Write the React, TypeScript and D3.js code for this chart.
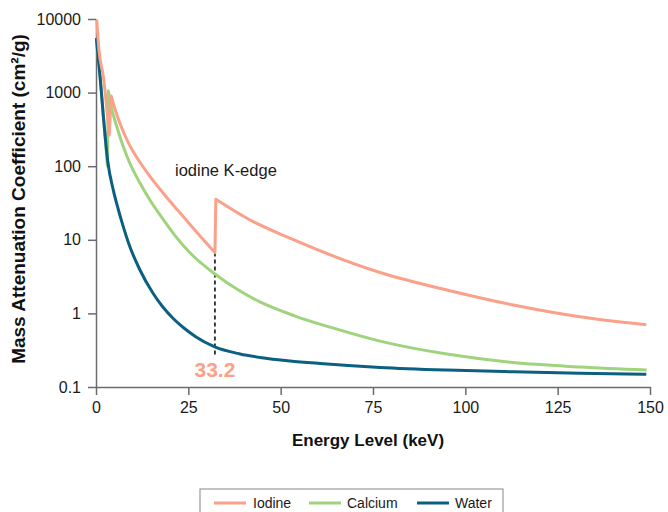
import React, { useEffect, useRef } from "react";
import * as d3 from "d3";

// Energy (keV) as plotted, mass attenuation coefficient (cm²/g)
const iodineEnergy = [0.2, 0.8, 2.0, 3.6, 4.1, 5.14, 6.5, 8.94, 11.9, 14.6, 18.1, 22.7, 27.1, 32.2, 32.45, 41.7, 52.5, 76.9, 95, 113, 131, 149];
const iodineValue = [9700, 3800, 1630, 265, 900, 599, 380, 199, 113, 72.7, 43.6, 23.4, 13.0, 6.7, 35.5, 18.6, 10.5, 3.6, 2.08, 1.3, 0.9, 0.7];

const calciumEnergy = [0.1, 1.1, 2.0, 3.1, 3.33, 4.33, 5.42, 7.04, 9.02, 11.9, 14.6, 18.1, 21.4, 25.5, 32.2, 39.0, 44.4, 53.9, 63.4, 76.9, 95, 112.9, 131.1, 149.1];
const calciumValue = [5200, 1700, 480, 100, 1051, 580, 374, 207, 114, 59, 34.7, 19.2, 11.4, 6.6, 3.43, 2.01, 1.43, 0.92, 0.65, 0.42, 0.28, 0.215, 0.187, 0.17];

const waterEnergy = [0.1, 1.1, 2.0, 3.2, 4.7, 6.0, 7.0, 9.0, 11.9, 15.4, 18.1, 20.9, 23.8, 27.1, 32.0, 39.0, 44.4, 52.5, 60.7, 76.9, 95, 113, 131, 149];
const waterValue = [5500, 1640, 471, 115, 47, 26.2, 17.5, 8.5, 3.89, 1.89, 1.22, 0.853, 0.633, 0.478, 0.353, 0.281, 0.252, 0.2256, 0.2086, 0.1846, 0.17, 0.161, 0.154, 0.149];

const seriesNames = ["Iodine", "Calcium", "Water"];
const seriesColors = ["#FBA089", "#9FD37C", "#0B5F80"];

const xTicks = [0, 25, 50, 75, 100, 125, 150];
const yTicks = [0.1, 1, 10, 100, 1000, 10000];

const kEdgeEnergy = 32.2;
const kEdgeLabel = "33.2";
const kEdgeTop = 6.7;
const kEdgeBottom = 0.255;
const annotation = "iodine K-edge";

const W = 668;
const H = 512;
const FONT = "'Liberation Sans', Arial, Helvetica, sans-serif";

type Pt = [number, number];

// split a series into continuous pieces at absorption edges (where the value jumps up)
function splitAtEdges(pts: Pt[]): Pt[][] {
  const segs: Pt[][] = [[pts[0]]];
  for (let i = 1; i < pts.length; i++) {
    if (pts[i][1] > pts[i - 1][1]) segs.push([pts[i]]);
    else segs[segs.length - 1].push(pts[i]);
  }
  return segs;
}

export default function App() {
  const xAxisRef = useRef<SVGGElement>(null);
  const yAxisRef = useRef<SVGGElement>(null);

  const x = d3.scaleLinear().domain([0, 150]).range([96, 650]);
  const y = d3.scaleLog().domain([0.1, 10000]).range([387, 19]);

  useEffect(() => {
    const xa = d3
      .axisBottom(x)
      .tickValues(xTicks)
      .tickSize(8)
      .tickPadding(7)
      .tickSizeOuter(0)
      .tickFormat((d) => String(d));
    const ya = d3
      .axisLeft(y)
      .tickValues(yTicks)
      .tickSize(8)
      .tickPadding(7)
      .tickSizeOuter(0)
      .tickFormat((d) => String(d));
    const gx = d3.select(xAxisRef.current!);
    gx.call(xa as any);
    const gy = d3.select(yAxisRef.current!);
    gy.call(ya as any);
    [gx, gy].forEach((g) => {
      g.attr("font-family", FONT).attr("font-size", 16);
      g.select(".domain").attr("stroke", "#6b6b6b").attr("stroke-width", 1.5);
      g.selectAll(".tick line").attr("stroke", "#6b6b6b").attr("stroke-width", 1.5);
      g.selectAll(".tick text").attr("fill", "#1a1a1a");
    });
  }, []);

  const line = d3
    .line<Pt>()
    .x((d) => x(d[0]))
    .y((d) => y(d[1]))
    .curve(d3.curveMonotoneX);

  const pathFor = (pts: Pt[]) =>
    splitAtEdges(pts)
      .map((seg, i) => {
        const d = line(seg) || "";
        return i === 0 ? d : d.replace(/^M/, "L");
      })
      .join("");

  const data: Pt[][] = [
    iodineEnergy.map((e, i) => [e, iodineValue[i]] as Pt),
    calciumEnergy.map((e, i) => [e, calciumValue[i]] as Pt),
    waterEnergy.map((e, i) => [e, waterValue[i]] as Pt),
  ];
  const drawOrder = [1, 2, 0];

  const legendX = 200;
  const legendItems = [
    { lx: 214, tx: 253 },
    { lx: 309, tx: 347 },
    { lx: 417, tx: 455 },
  ];

  return (
    <svg
      width={W}
      height={H}
      style={{ position: "absolute", left: 0, top: 0, background: "#fff" }}
    >
      <g ref={xAxisRef} transform={`translate(0,${y(0.1)})`} />
      <g ref={yAxisRef} transform={`translate(${x(0)},0)`} />

      <line
        x1={x(kEdgeEnergy)}
        x2={x(kEdgeEnergy)}
        y1={y(kEdgeTop)}
        y2={y(kEdgeBottom)}
        stroke="#111"
        strokeWidth={1.6}
        strokeDasharray="4,3"
      />

      {drawOrder.map((i) => (
        <path
          key={seriesNames[i]}
          d={pathFor(data[i])}
          fill="none"
          stroke={seriesColors[i]}
          strokeWidth={3}
          strokeLinejoin="round"
        />
      ))}

      <text
        x={x(kEdgeEnergy)}
        y={377}
        textAnchor="middle"
        fontFamily={FONT}
        fontWeight="bold"
        fontSize={21}
        fill={seriesColors[0]}
      >
        {kEdgeLabel}
      </text>

      <text x={175} y={176} fontFamily={FONT} fontSize={16.5} fill="#1a1a1a">
        {annotation}
      </text>

      <text
        x={368}
        y={446}
        textAnchor="middle"
        fontFamily={FONT}
        fontWeight="bold"
        fontSize={17}
        fill="#111"
      >
        Energy Level (keV)
      </text>

      <text
        transform={`translate(25,199) rotate(-90)`}
        textAnchor="middle"
        fontFamily={FONT}
        fontWeight="bold"
        fontSize={19}
        fill="#111"
      >
        Mass Attenuation Coefficient (cm²/g)
      </text>

      <rect x={legendX} y={489} width={303} height={40} fill="none" stroke="#9a9a9a" strokeWidth={1.2} />
      {legendItems.map((it, i) => (
        <g key={seriesNames[i]}>
          <line x1={it.lx} x2={it.lx + 32} y1={503} y2={503} stroke={seriesColors[i]} strokeWidth={3} />
          <text x={it.tx} y={508} fontFamily={FONT} fontSize={14} fill="#1a1a1a">
            {seriesNames[i]}
          </text>
        </g>
      ))}
    </svg>
  );
}
